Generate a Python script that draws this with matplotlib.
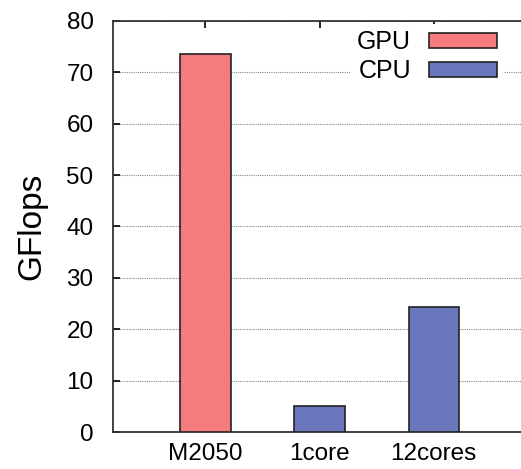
import matplotlib.pyplot as plt
from matplotlib.patches import Patch

plt.rcParams['font.family'] = ['Liberation Sans', 'DejaVu Sans']

labels = ['M2050', '1core', '12cores']
gpu_pos = [1]
gpu_vals = [73.5]
cpu_pos = [2, 3]
cpu_vals = [5.0, 24.3]

gpu_color = '#f47c7f'
cpu_color = '#6a77bd'

fig = plt.figure(figsize=(5.21, 4.69), dpi=100)
ax = fig.add_axes([113/521, 37/469, 420/521, 411/469])

ax.bar(gpu_pos, gpu_vals, width=0.44, color=gpu_color, edgecolor='#222222', linewidth=1.2, zorder=3)
ax.bar(cpu_pos, cpu_vals, width=0.44, color=cpu_color, edgecolor='#222222', linewidth=1.2, zorder=3)

ax.set_xlim(0.19, 3.87)
ax.set_ylim(0, 80)
ax.set_yticks(range(0, 81, 10))
ax.set_xticks([1, 2, 3])
ax.set_xticklabels(labels)
ax.yaxis.grid(True, linestyle=(0, (1, 1)), color='#888888', linewidth=0.8, zorder=0)
ax.tick_params(direction='in', top=True, right=True, labelsize=17.5, length=5, width=1.2)
ax.tick_params(axis='x', pad=8)
ax.tick_params(axis='y', pad=14)
for s in ax.spines.values():
    s.set_linewidth(1.3)
    s.set_color('#333333')
ax.set_ylabel('GFlops', fontsize=24, labelpad=14)

handles = [Patch(facecolor=gpu_color, edgecolor='#222222', linewidth=1.2),
           Patch(facecolor=cpu_color, edgecolor='#222222', linewidth=1.2)]
leg = ax.legend(handles, ['GPU', 'CPU'], loc='upper right', bbox_to_anchor=(0.93, 0.993),
                markerfirst=False, frameon=True, fontsize=18, handlelength=2.75, handleheight=0.55,
                labelspacing=0.2, handletextpad=0.7, borderpad=0.25, borderaxespad=0)
leg.get_frame().set_edgecolor('none')
leg.get_frame().set_facecolor('white')
leg.get_frame().set_alpha(1)
leg.set_zorder(5)

fig.savefig('out.png')
